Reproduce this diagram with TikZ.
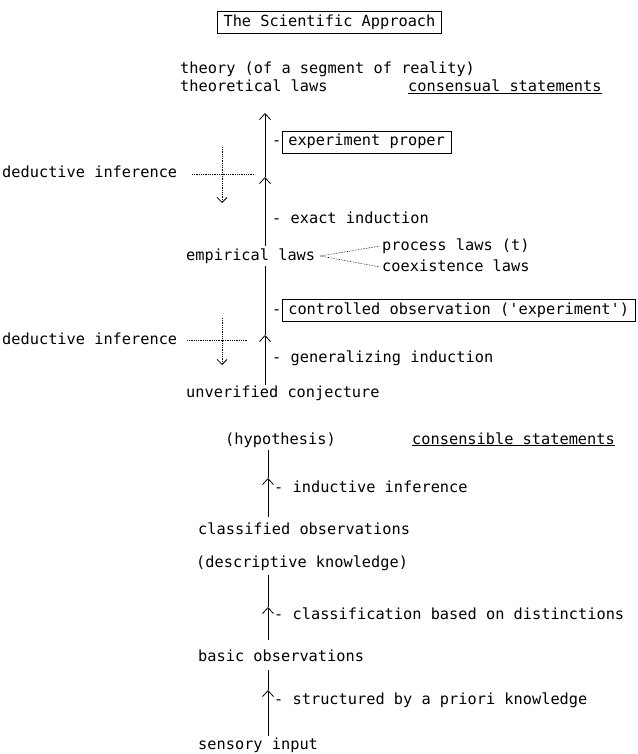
\documentclass[tikz,border=0pt]{standalone}
\usepackage{fontspec}
\setmonofont{DejaVu Sans Mono}
\usetikzlibrary{arrows.meta}

\begin{document}
\begin{tikzpicture}[x=1pt,y=-1pt,
	txt/.style={anchor=west,inner sep=0pt,text height=11pt,text depth=3pt,font=\ttfamily\fontsize{15.3}{18}\selectfont},
	boxed/.style={txt,draw,inner xsep=6pt,inner ysep=4pt,line width=0.6pt},
	flow/.style={line width=0.8pt,-{Straight Barb[length=6pt,width=11pt]}},
	stem/.style={line width=0.8pt},
	ded/.style={densely dotted,line width=0.8pt},
	dedarrow/.style={ded,-{Straight Barb[length=5pt,width=10pt]}},
	fork/.style={densely dotted,line width=0.6pt},
	uline/.style={line width=0.8pt}]
	\useasboundingbox (0,0) rectangle (637,754);

	\node[boxed,anchor=center] (title) at (329.5,22.5) {The Scientific Approach};

	\node[txt] (theory) at (180,70) {theory (of a segment of reality)};
	\node[txt] (theolaws) at (180,88) {theoretical laws};
	\node[txt] (consensual) at (408,88) {consensual statements};
	\draw[uline] ([yshift=2pt]consensual.south west) -- ([yshift=2pt]consensual.south east);

	\coordinate (aTop) at (265,113);
	\coordinate (aMid) at (265,177);
	\coordinate (aBot) at (265,246);
	\draw[flow] (aBot) -- (aMid);
	\draw[flow] (aMid) -- (aTop);

	\node[txt] (dashA) at (272,142) {-};
	\node[boxed] (proper) at (282,142) {experiment proper};
	\node[txt] (exact) at (272,219) {- exact induction};

	\node[txt] (dedA) at (2,174) {deductive inference};
	\coordinate (dedAl) at (192,174);
	\coordinate (dedAr) at (255,174);
	\coordinate (dedAt) at (222,147);
	\coordinate (dedAb) at (222,203);
	\draw[ded] (dedAl) -- (dedAr);
	\draw[dedarrow] (dedAt) -- (dedAb);

	\node[txt] (empirical) at (186,256) {empirical laws};
	\node[txt] (process) at (382,246) {process laws (t)};
	\node[txt] (coexist) at (382,267) {coexistence laws};
	\draw[fork] ([xshift=5pt]empirical.east) -- ([xshift=-2pt]process.west);
	\draw[fork] ([xshift=5pt]empirical.east) -- ([xshift=-2pt]coexist.west);

	\coordinate (bTop) at (265,266);
	\coordinate (bMid) at (265,335);
	\coordinate (bBot) at (265,385);
	\draw[flow] (bBot) -- (bMid);
	\draw[stem] (bMid) -- (bTop);

	\node[txt] (dashB) at (272,310) {-};
	\node[boxed] (controlled) at (282,310) {controlled observation ('experiment')};
	\node[txt] (general) at (272,358) {- generalizing induction};

	\node[txt] (dedB) at (2,340) {deductive inference};
	\coordinate (dedBl) at (187,340);
	\coordinate (dedBr) at (248,340);
	\coordinate (dedBt) at (222,318);
	\coordinate (dedBb) at (222,365);
	\draw[ded] (dedBl) -- (dedBr);
	\draw[dedarrow] (dedBt) -- (dedBb);

	\node[txt] (conjecture) at (186,393) {unverified conjecture};
	\node[txt] (hypothesis) at (225,440) {(hypothesis)};
	\node[txt] (consensible) at (412,440) {consensible statements};
	\draw[uline] ([yshift=2pt]consensible.south west) -- ([yshift=2pt]consensible.south east);

	\coordinate (cTop) at (268,450);
	\coordinate (cMid) at (268,478);
	\coordinate (cBot) at (268,517);
	\draw[flow] (cBot) -- (cMid);
	\draw[stem] (cMid) -- (cTop);
	\node[txt] (inductive) at (274,488) {- inductive inference};

	\node[txt] (classified) at (198,530) {classified observations};
	\node[txt] (descriptive) at (196,563) {(descriptive knowledge)};

	\coordinate (dTop) at (268,575);
	\coordinate (dMid) at (268,607);
	\coordinate (dBot) at (268,640);
	\draw[flow] (dBot) -- (dMid);
	\draw[stem] (dMid) -- (dTop);
	\node[txt] (classification) at (274,615) {- classification based on distinctions};

	\node[txt] (basic) at (198,657) {basic observations};

	\coordinate (eTop) at (268,670);
	\coordinate (eMid) at (268,690);
	\coordinate (eBot) at (268,736);
	\draw[flow] (eBot) -- (eMid);
	\draw[stem] (eMid) -- (eTop);
	\node[txt] (structured) at (274,700) {- structured by a priori knowledge};

	\node[txt] (sensory) at (198,745) {sensory input};
\end{tikzpicture}
\end{document}
